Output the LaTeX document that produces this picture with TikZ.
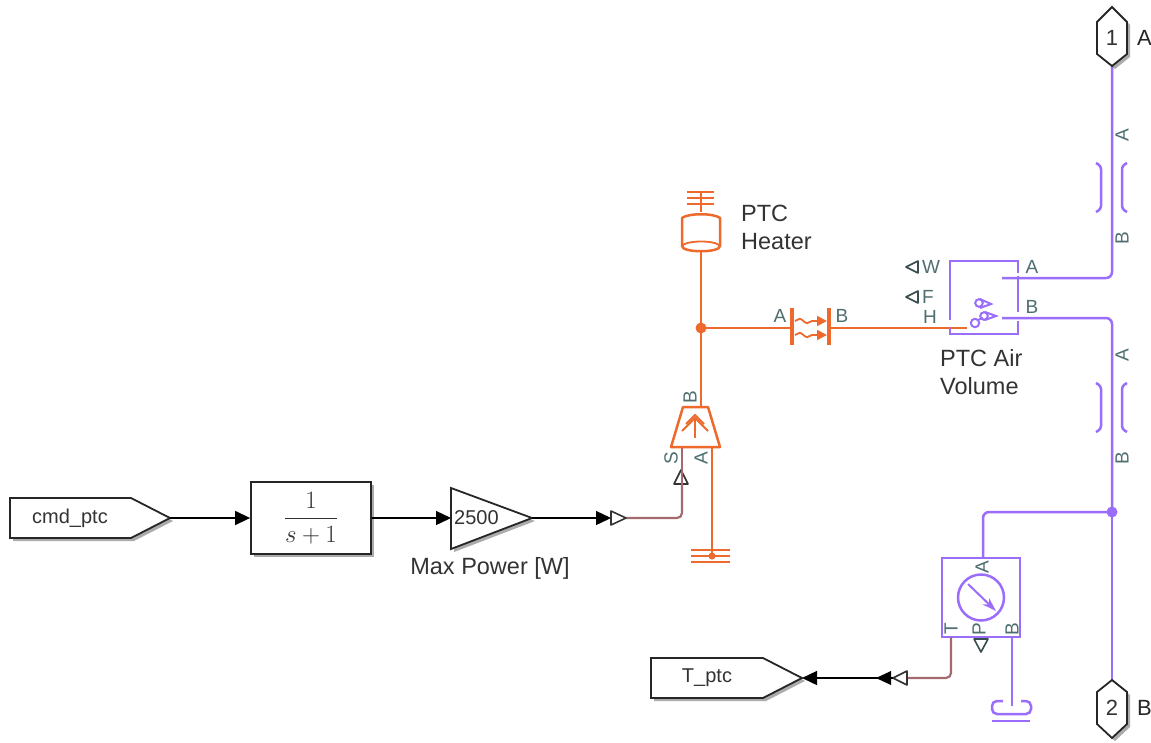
\documentclass[tikz,border=0pt]{standalone}
\usepackage{fontspec}
\setmainfont{Liberation Sans}
\usepackage{amsmath}
\usetikzlibrary{arrows.meta,calc,shadows,decorations.pathmorphing}

\definecolor{heatline}{HTML}{EE6A2C}
\definecolor{airline}{HTML}{9A6DFB}
\definecolor{physline}{HTML}{A46A70}
\definecolor{portlabel}{HTML}{4E6E70}
\definecolor{blocktext}{HTML}{333333}

\tikzset{
  blockshape/.style={draw=black!85,line width=1.8pt,fill=white,
    drop shadow={shadow xshift=3pt,shadow yshift=-3pt,fill=black!55,opacity=.6}},
  signal/.style={draw=black,line width=1.4pt},
  sigarrow/.style={signal,-{Triangle[length=15pt,width=14pt]}},
  phys/.style={draw=physline,line width=2.2pt,rounded corners=5pt},
  heat/.style={draw=heatline,line width=2.5pt},
  air/.style={draw=airline,line width=2.5pt},
  opentri/.style={draw=black!80,line width=1.6pt,fill=white,line join=round},
  blocklabel/.style={text=blocktext,font=\fontsize{23.5}{27}\selectfont,align=left,inner sep=0pt},
  smalltext/.style={text=blocktext,font=\fontsize{20}{24}\selectfont,inner sep=0pt},
  portname/.style={text=portlabel,font=\fontsize{19}{22}\selectfont,inner sep=0pt},
  portrot/.style={portname,rotate=90},
}

\begin{document}
\begin{tikzpicture}[x=1pt,y=-1pt]
  \useasboundingbox (0,0) rectangle (1151,742);
  \fill[white] (0,0) rectangle (1151,742);

  % 信号链：cmd_ptc -> 传递函数 -> 增益 -> 转换端口
  \coordinate (cmdtip) at (170,518);
  \coordinate (gainin) at (451,518);
  \coordinate (gaintip) at (532,518);
  \coordinate (cvtout) at (611,518);
  \coordinate (cvtstart) at (626,518);
  \coordinate (cvtin) at (682,485);
  \path[blockshape] (10,498) -- (131,498) -- (cmdtip) -- (131,538) -- (10,538) -- cycle;
  \node[smalltext] (cmdptc) at (70,518) {cmd\_ptc};
  \node[blockshape,minimum width=120pt,minimum height=72pt,inner sep=0pt] (lag) at (311,518) {};
  \node[text=blocktext,font=\fontsize{25}{30}\selectfont,inner sep=0pt] (lagtext) at (lag.center) {$\dfrac{1}{s+1}$};
  \path[blockshape] (451,488) -- (gaintip) -- (451,549) -- cycle;
  \node[smalltext,anchor=west] (gaintext) at (454,518) {2500};
  \node[blocklabel] (gainlabel) at (490,568) {Max Power [W]};
  \draw[sigarrow] (cmdtip) -- (lag.west);
  \draw[sigarrow] (lag.east) -- (gainin);
  \draw[sigarrow] (gaintip) -- (cvtout);
  \draw[phys] (cvtstart) -- (682,518) -- (cvtin);
  \draw[opentri] (611,511) -- (626,518) -- (611,525) -- cycle;
  \draw[opentri] (674,484) -- (681,470) -- (688,484) -- cycle;

  % 功率源（梯形）及其接地
  \coordinate (srcA) at (712,447);
  \coordinate (srcB) at (701,407);
  \coordinate (gndA) at (712,556);
  \coordinate (tee) at (701,328);
  \draw[phys] (682,447) -- (cvtin);
  \draw[heat,line join=round] (683,407) -- (708,407) -- (720,447) -- (671,447) -- cycle;
  \draw[heat,line width=2pt] (695,438) -- (695,418);
  \draw[heat,line width=2pt] (682,431) -- (695,418) -- (708,431);
  \draw[heat,line width=2pt] (686,424) -- (695,415) -- (704,424);
  \draw[heat] (srcA) -- (gndA);
  \draw[heat,line width=2pt] (691,550) -- (730,550) (691,556) -- (730,556) (691,562) -- (730,562);
  \fill[heatline] (gndA) circle (3.5pt);
  \node[portrot] (srcBtext) at (690,397) {B};
  \node[portrot] (srcStext) at (671,458) {S};
  \node[portrot] (srcAtext) at (701,458) {A};

  % 热容 PTC Heater
  \coordinate (massbot) at (701,251);
  \draw[heat,line width=2pt] (687,192) -- (714,192) (687,198) -- (714,198) (687,204) -- (714,204);
  \draw[heat] (701,192) -- (701,212);
  \draw[heat,line join=round] (682,218) .. controls (688,213) and (714,213) .. (720,218) -- (720,246)
    .. controls (720,253) and (682,253) .. (682,246) -- cycle;
  \draw[heat,line width=1.8pt] (682,246) .. controls (686,240) and (716,240) .. (720,246);
  \node[blocklabel,anchor=north west] (heaterlabel) at (741,205) {PTC\\[1pt]Heater};
  \draw[heat] (massbot) -- (tee);
  \draw[heat] (tee) -- (srcB);
  \fill[heatline] (tee) circle (5.5pt);

  % 热传导
  \coordinate (condA) at (792,328);
  \coordinate (condB) at (829,328);
  \coordinate (volH) at (967,328);
  \draw[heat] (tee) -- (condA);
  \draw[heat] (condB) -- (volH);
  \draw[heat,line width=4.5pt] (792,308) -- (792,345);
  \draw[heat,line width=4.5pt] (829,308) -- (829,345);
  \draw[heat,line width=1.8pt,-{Triangle[length=10pt,width=10pt]},decorate,decoration={snake,amplitude=2.2pt,segment length=15pt,post length=10pt}] (795,321) -- (827,321);
  \draw[heat,line width=1.8pt,-{Triangle[length=10pt,width=10pt]},decorate,decoration={snake,amplitude=2.2pt,segment length=15pt,post length=10pt}] (795,335) -- (827,335);
  \node[portname] (condAtext) at (780,316) {A};
  \node[portname] (condBtext) at (842,316) {B};

  % 空气容积 PTC Air Volume
  \coordinate (volA) at (1002,278);
  \coordinate (volB) at (1002,318);
  \coordinate (portAend) at (1112,66);
  \coordinate (portBend) at (1112,680);
  \coordinate (junction) at (1112,512);
  \draw[air] (950,320) -- (950,261) -- (1018,261) -- (1018,273);
  \draw[air] (1018,276) -- (1018,312);
  \draw[air] (1018,321) -- (1018,334) -- (950,334) -- (950,327);
  \draw[air,line width=2pt] (979,303) circle (3.8pt);
  \draw[air,line width=2pt] (980,299) -- (991,304) -- (980,308);
  \draw[air,line width=2pt] (984,316) circle (3.8pt);
  \draw[air,line width=2pt] (985,312) -- (996,316) -- (985,320);
  \draw[air,line width=2pt] (975,323) circle (4.2pt);
  \draw[air,line width=2pt] (978,320) -- (983,318);
  \draw[air,rounded corners=6pt] (volA) -- (1112,278) -- (portAend);
  \draw[air,rounded corners=6pt] (volB) -- (1112,318) -- (junction);
  \draw[air] (junction) -- (portBend);
  \fill[airline] (junction) circle (5.5pt);
  \draw[opentri,draw=portlabel!70!black] (918,261) -- (906,267) -- (918,273) -- cycle;
  \draw[opentri,draw=portlabel!70!black] (918,291) -- (906,297) -- (918,303) -- cycle;
  \node[portname] (volWtext) at (931,267) {W};
  \node[portname] (volFtext) at (928,297) {F};
  \node[portname] (volHtext) at (930,317) {H};
  \node[portname] (volAtext) at (1032,267) {A};
  \node[portname] (volBtext) at (1032,307) {B};
  \node[blocklabel,anchor=north west] (vollabel) at (940,349) {PTC Air\\[1pt]Volume};

  % 两段管道符号
  \foreach \py/\pname in {135/upper,355/lower}{
    \node[portrot] (\pname A) at (1122,\py) {A};
    \node[portrot] (\pname B) at (1122,\py+103) {B};
    \draw[air,rounded corners=3pt] (1096,\py+28) -- (1101,\py+31) -- (1101,\py+74) -- (1096,\py+77);
    \draw[air,rounded corners=3pt] (1127,\py+28) -- (1122,\py+31) -- (1122,\py+74) -- (1127,\py+77);
  }

  % 端口 1、2
  \path[blockshape] (1112,7) -- (1127,22) -- (1127,54) -- (portAend) -- (1097,54) -- (1097,22) -- cycle;
  \node[smalltext,font=\fontsize{22}{26}\selectfont] (portone) at (1112,38) {1};
  \node[smalltext,anchor=west,text=black!85,font=\fontsize{22}{26}\selectfont] (portonename) at (1137,38) {A};
  \path[blockshape] (portBend) -- (1127,692) -- (1127,724) -- (1112,738) -- (1097,724) -- (1097,692) -- cycle;
  \node[smalltext,font=\fontsize{22}{26}\selectfont] (porttwo) at (1112,708) {2};
  \node[smalltext,anchor=west,text=black!85,font=\fontsize{22}{26}\selectfont] (porttwoname) at (1137,708) {B};

  % 温压传感器
  \coordinate (sensA) at (983,558);
  \coordinate (sensT) at (951,637);
  \coordinate (sensB) at (1012,637);
  \coordinate (gndB) at (1012,706);
  \coordinate (sensout) at (893,678);
  \coordinate (tptctip) at (802,678);
  \draw[air,rounded corners=6pt] (junction) -- (983,512) -- (sensA);
  \node[draw=airline,line width=1.2pt,minimum width=78pt,minimum height=79pt,inner sep=0pt] (sensor) at (981,597.5) {};
  \draw[air] (sensor.center) circle (23pt);
  \draw[air,line width=2pt,-{Stealth[length=14pt,width=9pt]}] (968,584) -- (996,611);
  \node[portrot] (sensAtext) at (982,567) {A};
  \node[portrot] (sensTtext) at (951,629) {T};
  \node[portrot] (sensPtext) at (979,629) {P};
  \node[portrot] (sensBtext) at (1012,629) {B};
  \draw[opentri,draw=portlabel!70!black] (974,639) -- (988,639) -- (981,652) -- cycle;
  \draw[air] (sensB) -- (gndB);
  \draw[air,rounded corners=5pt] (1003,701) -- (992,701) -- (992,714) -- (1031,714) -- (1031,701) -- (1021,701);
  \draw[air] (992,721) -- (1030,721);
  \draw[phys] (sensT) -- (951,678) -- (908,678);
  \draw[opentri] (907,671) -- (893,678) -- (907,685) -- cycle;
  \path[blockshape] (651,658) -- (763,658) -- (tptctip) -- (763,698) -- (651,698) -- cycle;
  \node[smalltext] (tptc) at (707,678) {T\_ptc};
  \draw[sigarrow] (sensout) -- (tptctip);
  \fill[black] (891,671) -- (876,678) -- (891,685) -- cycle;
\end{tikzpicture}
\end{document}
